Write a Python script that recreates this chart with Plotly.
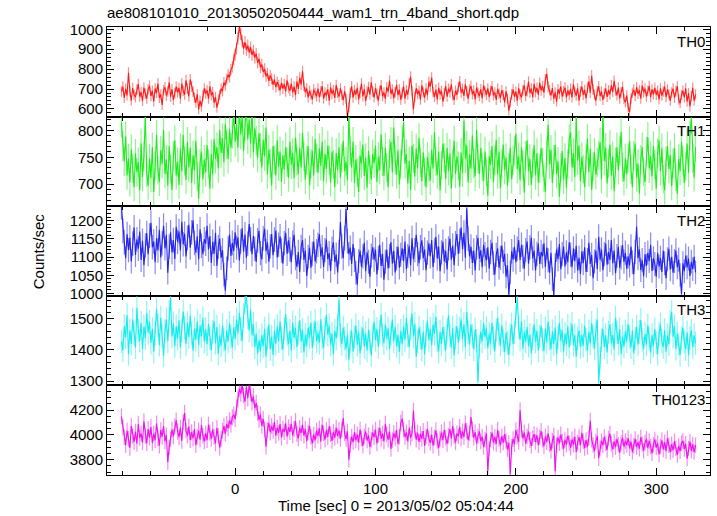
import plotly.graph_objects as go
from plotly.subplots import make_subplots

# time bins (1 s) starting at t = -81 s
t_start = -81
bin_sec = 1

th0 = [
688, 712, 655, 701, 668, 781, 690, 642, 705, 671, 659, 698, 725, 662, 684, 640, 707, 676, 652, 699,
716, 664, 691, 638, 702, 681, 727, 656, 673, 620, 695, 709, 667, 688, 734, 661, 699, 645, 679, 712,
683, 705, 651, 728, 690, 672, 744, 701, 663, 748, 712, 686, 657, 631, 674, 598, 642, 611, 668, 703,
677, 694, 652, 713, 669, 684, 631, 660, 606, 648, 671, 702, 689, 733, 718, 751, 772, 759, 798, 812,
848, 871, 902, 955, 1012, 978, 941, 903, 936, 897, 918, 884, 909, 871, 893, 858, 877, 832, 851, 809,
823, 786, 801, 764, 779, 741, 768, 752, 722, 747, 709, 736, 718, 694, 731, 702, 725, 688, 744, 706,
691, 727, 683, 712, 669, 738, 701, 757, 722, 789, 716, 684, 703, 658, 691, 672, 648, 697, 680, 663,
702, 659, 688, 714, 651, 683, 667, 699, 642, 708, 676, 694, 655, 720, 681, 662, 703, 671, 644, 689,
651, 562, 608, 682, 713, 657, 694, 672, 706, 648, 681, 727, 663, 699, 641, 688, 710, 672, 734, 686,
658, 703, 677, 641, 692, 719, 664, 683, 651, 708, 687, 742, 675, 698, 653, 684, 721, 669, 697, 646,
681, 713, 652, 694, 672, 728, 762, 689, 597, 661, 704, 675, 691, 646, 718, 683, 657, 702, 669, 736,
712, 757, 684, 661, 697, 648, 706, 673, 690, 637, 679, 715, 662, 701, 684, 723, 668, 645, 692, 671,
709, 738, 682, 701, 665, 724, 689, 651, 697, 716, 673, 692, 648, 707, 681, 664, 699, 653, 718, 687,
671, 703, 659, 692, 714, 668, 683, 645, 701, 677, 656, 694, 671, 633, 688, 652, 591, 634, 673, 698,
662, 687, 641, 703, 672, 658, 694, 718, 665, 689, 737, 681, 702, 659, 726, 684, 706, 671, 731, 693,
715, 682, 748, 776, 711, 694, 668, 705, 651, 683, 637, 699, 676, 714, 662, 689, 707, 658, 693, 669,
701, 658, 724, 685, 667, 703, 642, 688, 712, 671, 695, 653, 708, 739, 681, 766, 697, 672, 641, 689,
713, 664, 687, 645, 678, 702, 661, 694, 673, 718, 686, 741, 693, 668, 707, 652, 684, 711, 649, 633,
668, 607, 584, 652, 681, 697, 664, 709, 676, 693, 651, 717, 684, 702, 662, 691, 715, 659, 698, 673,
706, 671, 692, 648, 703, 667, 688, 712, 659, 697, 674, 641, 683, 702, 656, 689, 714, 647, 628, 671,
692, 658, 703, 636, 679, 612, 664, 706, 641, 673,
]

th1 = [
815, 771, 742, 789, 716, 748, 703, 765, 729, 694, 757, 722, 741, 688, 776, 713, 752, 829, 721, 697,
748, 711, 769, 685, 734, 792, 726, 704, 763, 738, 801, 719, 746, 697, 771, 728, 689, 753, 782, 716,
741, 698, 767, 724, 792, 743, 708, 779, 731, 768, 702, 754, 726, 781, 715, 673, 739, 761, 709, 746,
722, 773, 738, 691, 756, 718, 784, 747, 769, 729, 801, 758, 786, 741, 812, 774, 747, 803, 768, 794,
835, 779, 812, 768, 841, 793, 826, 762, 809, 848, 784, 821, 776, 838, 759, 804, 781, 749, 795, 768,
731, 783, 752, 806, 718, 764, 739, 697, 771, 745, 716, 782, 733, 761, 704, 754, 727, 769, 741, 712,
779, 736, 758, 711, 787, 743, 719, 768, 731, 796, 752, 708, 744, 771, 697, 738, 762, 716, 784, 749,
721, 767, 734, 779, 705, 756, 728, 772, 745, 703, 761, 737, 694, 758, 726, 769, 712, 749, 781, 724,
742, 708, 827, 763, 731, 779, 702, 746, 721, 685, 753, 738, 774, 715, 749, 693, 762, 727, 708, 756,
739, 772, 704, 751, 726, 793, 742, 715, 768, 731, 694, 757, 779, 722, 806, 745, 718, 763, 699, 737,
781, 815, 738, 756, 701, 743, 689, 772, 748, 714, 767, 729, 786, 741, 705, 759, 723, 694, 751, 732,
706, 764, 729, 797, 742, 717, 761, 688, 735, 776, 749, 709, 768, 724, 757, 691, 738, 781, 719, 752,
734, 695, 759, 721, 819, 748, 772, 703, 755, 729, 791, 738, 714, 801, 747, 719, 768, 732, 706, 761,
723, 678, 752, 736, 771, 704, 745, 783, 718, 761, 692, 738, 774, 726, 749, 697, 731, 768, 709, 744,
762, 794, 728, 751, 707, 769, 736, 684, 753, 782, 724, 747, 698, 739, 773, 716, 758, 703, 729, 767,
741, 712, 685, 758, 811, 737, 764, 702, 746, 773, 719, 742, 676, 731, 762, 708, 749, 693, 738, 784,
797, 731, 758, 713, 826, 744, 772, 705, 751, 728, 694, 747, 785, 722, 766, 689, 733, 759, 717, 741,
754, 778, 709, 832, 743, 768, 701, 739, 774, 716, 752, 687, 741, 769, 726, 762, 798, 731, 705, 748,
718, 749, 781, 727, 694, 753, 776, 712, 738, 682, 746, 769, 723, 704, 761, 788, 729, 752, 714, 771,
736, 691, 758, 782, 724, 767, 709, 688, 743, 771, 728, 754, 696, 739, 768, 713, 682, 747, 725, 779,
744, 702, 733, 776, 721, 791, 823, 748, 712, 769,
]

th2 = [
1238, 1172, 1141, 1097, 1163, 1119, 1154, 1088, 1137, 1181, 1106, 1149, 1123, 1170, 1092, 1145, 1078, 1132, 1166, 1108,
1159, 1194, 1127, 1143, 1086, 1152, 1118, 1175, 1099, 1138, 1186, 1124, 1161, 1057, 1129, 1168, 1113, 1147, 1095, 1183,
1142, 1171, 1118, 1197, 1135, 1164, 1102, 1153, 1189, 1126, 1168, 1201, 1139, 1112, 1157, 1094, 1176, 1131, 1108, 1149,
1137, 1186, 1121, 1158, 1084, 1142, 1109, 1167, 1076, 1128, 1151, 1098, 1119, 1052, 1008, 1069, 1124, 1162, 1103, 1139,
1117, 1168, 1126, 1154, 1091, 1143, 1179, 1115, 1162, 1098, 1137, 1191, 1149, 1108, 1158, 1123, 1087, 1146, 1172, 1111,
1094, 1152, 1178, 1116, 1141, 1087, 1129, 1163, 1105, 1148, 1173, 1099, 1134, 1157, 1118, 1082, 1138, 1167, 1109, 1146,
1121, 1086, 1139, 1161, 1097, 1073, 1114, 1059, 1128, 1147, 1092, 1118, 1048, 1101, 1126, 1071, 1109, 1143, 1088, 1116,
1134, 1163, 1102, 1127, 1073, 1119, 1148, 1094, 1111, 1062, 1123, 1141, 1086, 1107, 1058, 1114, 1196, 1129, 1097, 1152,
1232, 1144, 1108, 1126, 1081, 1136, 1092, 1057, 1024, 1089, 1118, 1073, 1102, 1139, 1061, 1113, 1087, 1046, 1104, 1127,
1093, 1121, 1052, 1098, 1134, 1076, 1109, 1038, 1087, 1121, 1069, 1103, 1141, 1082, 1117, 1058, 1096, 1128, 1071, 1106,
1124, 1089, 1143, 1067, 1103, 1131, 1078, 1152, 1094, 1119, 1161, 1108, 1083, 1127, 1146, 1097, 1121, 1064, 1112, 1138,
1102, 1147, 1073, 1118, 1156, 1096, 1129, 1061, 1113, 1142, 1088, 1117, 1066, 1124, 1151, 1093, 1132, 1078, 1138, 1163,
1109, 1144, 1181, 1122, 1167, 1098, 1234, 1151, 1102, 1129, 1084, 1118, 1063, 1127, 1153, 1096, 1119, 1072, 1134, 1108,
1091, 1127, 1068, 1114, 1139, 1083, 1052, 1106, 1124, 1071, 1098, 1132, 1087, 1109, 1046, 1077, 997, 1058, 1116, 1093,
1128, 1086, 1123, 1147, 1092, 1134, 1101, 1068, 1119, 1143, 1082, 1127, 1154, 1096, 1118, 1063, 1109, 1137, 1081, 1114,
1102, 1138, 1073, 1126, 1091, 1057, 1112, 1039, 996, 1078, 1121, 1094, 1136, 1067, 1108, 1129, 1074, 1113, 1086, 1141,
1107, 1072, 1124, 1089, 1131, 1063, 1098, 1054, 1116, 1083, 1127, 1059, 1092, 1139, 1081, 1106, 1042, 1088, 1118, 1067,
1156, 1093, 1121, 1064, 1108, 1137, 1079, 1114, 1092, 1147, 1083, 1118, 1056, 1103, 1128, 1071, 1099, 1133, 1087, 1112,
1068, 1102, 1077, 1129, 1086, 1053, 1114, 1183, 1097, 1121, 1064, 1092, 1047, 1108, 1076, 1112, 1089, 1134, 1062, 1097,
1081, 1046, 1112, 1074, 1098, 1059, 1117, 1083, 1042, 1094, 1123, 1066, 1101, 1057, 1089, 1118, 1072, 1093, 1051, 998,
1083, 1061, 1104, 1072, 1096, 1048, 1087, 1067, 1101, 1058,
]

th3 = [
1427, 1398, 1476, 1441, 1512, 1386, 1463, 1419, 1497, 1452, 1408, 1534, 1461, 1429, 1487, 1402, 1474, 1438, 1518, 1455,
1489, 1423, 1467, 1394, 1452, 1531, 1478, 1416, 1503, 1446, 1381, 1459, 1497, 1428, 1521, 1567, 1443, 1485, 1412, 1476,
1437, 1495, 1408, 1462, 1523, 1471, 1419, 1486, 1441, 1509, 1453, 1397, 1468, 1432, 1491, 1414, 1478, 1444, 1502, 1426,
1466, 1418, 1483, 1437, 1399, 1458, 1492, 1421, 1474, 1388, 1446, 1413, 1479, 1432, 1398, 1461, 1427, 1485, 1443, 1408,
1472, 1436, 1498, 1452, 1519, 1467, 1428, 1511, 1553, 1574, 1506, 1462, 1529, 1447, 1483, 1409, 1452, 1388, 1431, 1396,
1447, 1412, 1468, 1379, 1436, 1481, 1402, 1443, 1384, 1461, 1419, 1476, 1428, 1492, 1437, 1401, 1466, 1515, 1452, 1418,
1461, 1397, 1488, 1438, 1471, 1409, 1453, 1496, 1427, 1464, 1392, 1448, 1413, 1472, 1439, 1487, 1406, 1451, 1493, 1428,
1455, 1423, 1498, 1441, 1406, 1467, 1512, 1449, 1478, 1417, 1452, 1386, 1461, 1437, 1477, 1562, 1448, 1419, 1472, 1436,
1403, 1449, 1368, 1427, 1462, 1394, 1441, 1478, 1416, 1458, 1389, 1437, 1471, 1411, 1453, 1398, 1464, 1426, 1383, 1446,
1491, 1432, 1467, 1409, 1458, 1513, 1447, 1421, 1482, 1436, 1469, 1403, 1452, 1497, 1428, 1474, 1412, 1448, 1393, 1461,
1418, 1476, 1431, 1502, 1447, 1409, 1468, 1517, 1443, 1484, 1379, 1427, 1472, 1438, 1401, 1458, 1386, 1449, 1493, 1432,
1467, 1414, 1481, 1452, 1506, 1429, 1394, 1458, 1419, 1473, 1437, 1398, 1462, 1511, 1446, 1408, 1471, 1382, 1439, 1476,
1423, 1468, 1497, 1435, 1482, 1409, 1522, 1456, 1417, 1481, 1444, 1401, 1465, 1429, 1297, 1412, 1458, 1427, 1486, 1441,
1469, 1405, 1452, 1421, 1487, 1438, 1396, 1463, 1502, 1447, 1416, 1478, 1431, 1393, 1456, 1422, 1384, 1447, 1481, 1418,
1456, 1511, 1568, 1472, 1433, 1491, 1404, 1459, 1427, 1473, 1412, 1448, 1389, 1437, 1482, 1426, 1461, 1398, 1443, 1477,
1432, 1397, 1468, 1424, 1491, 1437, 1402, 1459, 1418, 1472, 1386, 1441, 1487, 1429, 1463, 1394, 1452, 1418, 1476, 1408,
1451, 1483, 1416, 1447, 1378, 1436, 1462, 1409, 1448, 1413, 1477, 1432, 1398, 1459, 1421, 1486, 1443, 1404, 1462, 1497,
1296, 1372, 1431, 1468, 1409, 1447, 1392, 1456, 1483, 1421, 1448, 1401, 1503, 1457, 1419, 1466, 1387, 1442, 1411, 1459,
1427, 1483, 1441, 1408, 1462, 1389, 1436, 1474, 1417, 1458, 1496, 1432, 1404, 1451, 1418, 1479, 1436, 1392, 1447, 1413,
1466, 1422, 1387, 1452, 1481, 1428, 1409, 1463, 1394, 1447, 1418, 1489, 1521, 1442, 1476, 1403, 1451, 1419, 1384, 1438,
1471, 1425, 1402, 1456, 1383, 1438, 1462, 1409, 1447, 1421,
]

th0123 = [
4148, 4061, 3982, 3917, 4034, 3968, 3895, 4072, 3991, 3943, 4026, 3929, 4087, 3976, 4012, 3938, 4109, 3991, 3932, 4047,
3978, 4063, 3934, 4011, 3957, 4092, 3971, 3912, 4038, 3986, 4071, 3948, 3997, 3779, 3901, 3964, 4042, 3987, 4069, 4116,
4027, 3981, 4058, 3952, 4103, 4176, 4036, 3994, 4067, 3958, 4021, 3972, 4047, 3918, 3984, 4035, 3962, 4078, 3993, 3947,
4012, 3958, 4081, 4019, 3967, 4042, 3986, 3931, 4056, 3992, 3897, 3968, 4031, 4071, 4009, 4088, 4052, 4117, 4083, 4142,
4163, 4127, 4219, 4286, 4371, 4332, 4402, 4318, 4267, 4389, 4296, 4402, 4341, 4263, 4309, 4214, 4258, 4176, 4121, 4164,
4072, 4128, 4043, 3904, 4037, 4096, 4019, 4071, 4032, 4104, 3993, 4058, 4016, 4087, 3978, 4049, 4022, 4093, 3985, 4061,
4023, 4089, 3996, 4047, 4112, 4008, 3972, 4056, 4014, 4081, 3993, 4047, 3952, 4018, 4073, 3983, 3931, 4002, 3956, 4034,
3991, 4052, 3947, 4081, 4013, 3962, 4038, 3984, 4069, 4006, 3951, 4023, 3976, 4058, 3991, 4037, 3968, 4042, 4136, 4011,
3967, 4028, 3799, 3918, 3986, 3942, 4021, 3956, 4003, 3937, 4042, 3971, 3912, 3988, 4027, 3953, 3996, 3902, 3961, 4018,
3982, 4041, 3931, 3999, 4057, 3968, 4012, 3947, 4089, 4003, 3962, 4026, 3887, 3958, 4013, 3972, 4039, 3927, 3984, 4097,
4131, 4042, 3983, 4019, 3948, 4056, 3977, 4012, 4194, 4036, 3961, 4017, 3943, 4008, 3969, 4031, 3912, 3987, 4046, 3971,
3936, 4002, 3913, 3979, 4037, 3952, 3894, 3968, 4019, 3958, 4041, 3976, 3927, 3994, 4047, 3969, 4073, 3991, 3938, 4012,
3989, 4064, 3971, 4028, 3983, 4092, 4031, 3958, 4013, 4143, 4046, 3977, 4021, 3932, 3989, 4028, 3947, 3986, 3902, 3961,
4011, 3709, 3891, 3962, 4018, 3937, 3983, 3926, 4041, 3968, 3917, 3989, 3938, 4006, 3951, 3882, 3936, 3681, 3903, 3967,
3924, 4038, 3987, 3943, 4197, 4043, 3972, 4019, 3931, 3986, 4027, 3958, 3912, 3973, 4006, 3942, 3997, 3917, 3981, 4031,
3962, 3908, 3987, 3941, 4012, 3923, 3873, 3954, 3996, 3708, 3917, 3979, 3932, 4003, 3946, 3889, 3962, 3921, 3993, 3934,
3897, 3964, 3921, 3987, 3862, 3936, 3981, 3917, 4016, 3949, 3894, 3958, 3903, 3977, 4113, 3962, 3918, 3869, 3947, 3991,
3812, 3894, 3951, 3916, 3983, 3932, 3878, 3971, 4009, 3928, 3883, 3947, 3902, 3968, 3921, 3857, 3936, 3978, 3904, 3951,
3918, 3974, 3892, 3946, 3861, 3912, 3967, 3901, 3942, 3889, 3981, 3927, 3873, 3938, 3968, 3894, 3951, 3907, 3852, 3921,
3963, 3898, 3934, 3842, 3907, 3956, 3882, 3941, 3869, 3972, 3917, 3861, 3924, 3876, 3948, 3893, 3838, 3912, 3867, 3934,
3952, 3887, 3928, 3809, 3891, 3946, 3872, 3923, 3861, 3917,
]

band_names = ["TH0", "TH1", "TH2", "TH3", "TH0123"]
band_values = [th0, th1, th2, th3, th0123]
line_colors = ["#ff1a1a", "#1aee1a", "#2222ee", "#11eeee", "#ee11ee"]
err_colors = ["rgba(255,60,60,0.6)", "rgba(60,240,60,0.6)", "rgba(60,60,240,0.6)",
              "rgba(60,240,240,0.6)", "rgba(240,60,240,0.6)"]
y_ranges = [[561.5, 1011.5], [658.4, 826.3], [993.7, 1239.8], [1286, 1573.5], [3677, 4398]]
y_dticks = [100, 50, 50, 100, 200]
y_minor = [20, 10, 10, 20, 50]

title_text = "ae808101010_20130502050444_wam1_trn_4band_short.qdp"
x_title = "Time [sec] 0 = 2013/05/02 05:04:44"
y_title = "Counts/sec"

FONT = "Liberation Sans, Arial, Helvetica, sans-serif"

fig = make_subplots(rows=5, cols=1, shared_xaxes=True, vertical_spacing=0)

for i, (name, vals) in enumerate(zip(band_names, band_values)):
    times = [t_start + k * bin_sec for k in range(len(vals))]
    fig.add_trace(go.Scatter(
        x=times, y=vals, mode="lines",
        line=dict(color=line_colors[i], width=1.1),
        error_y=dict(type="sqrt", color=err_colors[i], thickness=1.2, width=0),
        showlegend=False, hoverinfo="skip",
    ), row=i + 1, col=1)
    fig.update_yaxes(
        range=y_ranges[i], dtick=y_dticks[i], tick0=0,
        ticks="inside", ticklen=7, tickwidth=1, tickcolor="black",
        minor=dict(dtick=y_minor[i], ticks="inside", ticklen=4, tickcolor="black", tickwidth=1),
        showline=True, linecolor="black", linewidth=1, mirror="allticks",
        showgrid=False, zeroline=False,
        tickfont=dict(family=FONT, size=15, color="black"),
        row=i + 1, col=1,
    )
    fig.update_xaxes(
        range=[-91.3, 338.3], dtick=100, tick0=0,
        ticks="inside", ticklen=7, tickwidth=1, tickcolor="black",
        minor=dict(dtick=20, ticks="inside", ticklen=4, tickcolor="black", tickwidth=1),
        showline=True, linecolor="black", linewidth=1, mirror="allticks",
        showgrid=False, zeroline=False,
        tickfont=dict(family=FONT, size=15, color="black"),
        row=i + 1, col=1,
    )
    yref = "y domain" if i == 0 else f"y{i + 1} domain"
    xref = "x domain" if i == 0 else f"x{i + 1} domain"
    fig.add_annotation(text=name, xref=xref, yref=yref, x=0.995, y=0.96,
                       xanchor="right", yanchor="top", showarrow=False,
                       font=dict(family=FONT, size=15, color="black"))

fig.add_annotation(text=y_title, xref="paper", yref="paper", x=-0.114, y=0.5,
                   textangle=-90, showarrow=False, xanchor="center", yanchor="middle",
                   font=dict(family=FONT, size=15, color="black"))
fig.add_annotation(text=x_title, xref="paper", yref="paper", x=0.48, y=-0.069,
                   xanchor="center", yanchor="middle", showarrow=False,
                   font=dict(family=FONT, size=15, color="black"))

fig.update_layout(
    width=717, height=516,
    margin=dict(l=107, r=6.5, t=27, b=41),
    paper_bgcolor="white", plot_bgcolor="white",
    title=dict(text=title_text, x=107 / 717, xanchor="left", xref="container",
               y=1 - 13 / 516, yanchor="middle",
               font=dict(family=FONT, size=15, color="black")),
)

fig.write_html("out.html", config=dict(displayModeBar=False),
               post_script="document.body.style.margin='0px';document.body.style.overflow='hidden';")
